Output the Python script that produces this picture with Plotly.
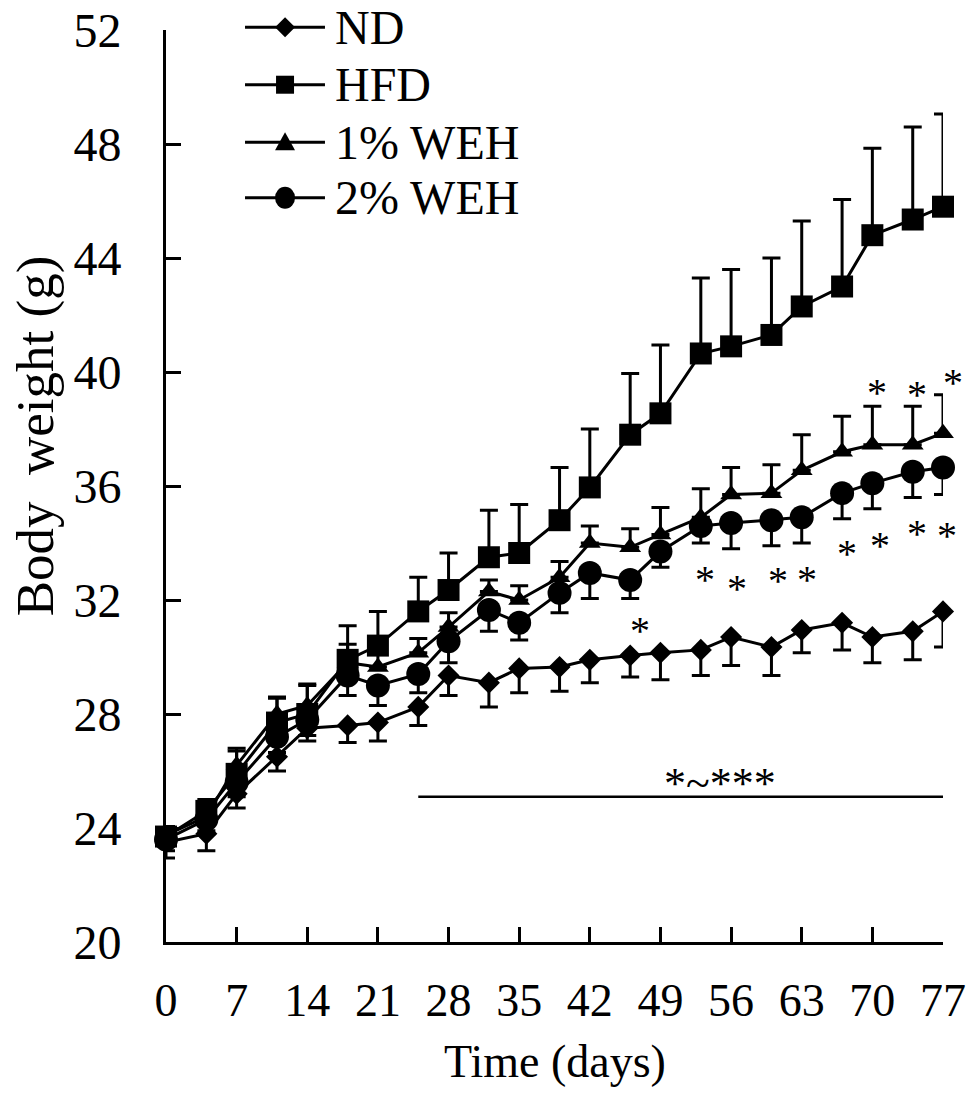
import plotly.graph_objects as go

# Body weight (g) over the feeding period, mean with one-sided SD bars
days = [0, 4, 7, 11, 14, 18, 21, 25, 28, 32, 35, 39, 42, 46, 49, 53, 56, 60, 63, 67, 70, 74, 77]

nd_mean = [23.5, 23.8, 25.2, 26.5, 27.5, 27.6, 27.7, 28.25, 29.35, 29.1, 29.6, 29.65, 29.9,
           30.05, 30.15, 30.25, 30.7, 30.35, 30.95, 31.2, 30.7, 30.9, 31.6]
nd_sd = [0.55, 0.6, 0.5, 0.5, 0.45, 0.6, 0.65, 0.65, 0.7, 0.85, 0.85, 0.85, 0.8,
         0.75, 0.95, 0.9, 1.0, 1.0, 0.8, 0.95, 0.9, 1.0, 1.25]

hfd_mean = [23.7, 24.6, 25.9, 27.7, 28.0, 29.9, 30.4, 31.6, 32.35, 33.5, 33.65, 34.8, 35.95,
            37.8, 38.55, 40.65, 40.9, 41.3, 42.3, 43.0, 44.8, 45.35, 45.8]
hfd_sd = [0.3, 0.4, 0.8, 0.85, 1.05, 1.2, 1.2, 1.2, 1.3, 1.65, 1.7, 1.85, 2.05,
          2.15, 2.4, 2.65, 2.7, 2.7, 3.0, 3.05, 3.05, 3.25, 3.25]

weh1_mean = [23.75, 24.4, 26.2, 28.0, 28.3, 29.8, 29.65, 30.15, 31.05, 32.3, 32.0, 32.8, 34.0,
             33.85, 34.3, 34.9, 35.7, 35.75, 36.55, 37.2, 37.45, 37.45, 37.85]
weh1_sd = [0.3, 0.4, 0.6, 0.6, 0.7, 0.65, 0.55, 0.5, 0.5, 0.4, 0.5, 0.55, 0.6,
           0.65, 0.95, 1.0, 0.95, 1.0, 1.25, 1.25, 1.35, 1.35, 1.35]

weh2_mean = [23.6, 24.3, 25.6, 27.2, 27.8, 29.35, 29.0, 29.4, 30.55, 31.65, 31.2, 32.25, 32.95,
             32.7, 33.7, 34.6, 34.7, 34.8, 34.9, 35.75, 36.1, 36.5, 36.65]
weh2_sd = [0.4, 0.4, 0.5, 0.55, 0.55, 0.7, 0.7, 0.65, 0.75, 0.75, 0.6, 0.7, 0.9,
           0.65, 0.55, 0.6, 0.9, 0.9, 0.9, 0.9, 0.9, 0.9, 0.95]

series_names = ["ND", "HFD", "1% WEH", "2% WEH"]

# significance marks (day, body weight)
star_up_x = [70.5, 74.4, 78.0]
star_up_y = [39.55, 39.5, 39.9]
star_low_x = [53.4, 56.6, 60.6, 63.5, 67.5, 70.8, 74.4, 77.4]
star_low_y = [33.0, 32.7, 32.95, 33.0, 33.9, 34.2, 34.6, 34.55]
star_mid_x = [47.0]
star_mid_y = [31.2]
bracket_start, bracket_end, bracket_y = 25, 77, 25.1
bracket_label = "*~***"
bracket_label_x, bracket_label_y = 54.9, 25.85

x_ticks = list(range(0, 78, 7))
y_ticks = list(range(20, 53, 4))
X_MAX = 77

FONT = "Liberation Serif, Times New Roman, serif"
BLACK = "#000000"

fig = go.Figure()


def add_series(name, mean, sd, symbol, size, upward):
    err = dict(type="data", symmetric=False, color=BLACK, thickness=3, width=9)
    if upward:
        err.update(array=sd, arrayminus=[0] * len(sd))
    else:
        err.update(array=[0] * len(sd), arrayminus=sd)
    fig.add_trace(go.Scatter(
        x=days, y=mean, name=name, mode="lines+markers",
        line=dict(color=BLACK, width=3),
        marker=dict(symbol=symbol, size=size, color=BLACK, line=dict(width=0)),
        error_y=err, cliponaxis=False, showlegend=False,
    ))


add_series(series_names[0], nd_mean, nd_sd, "diamond", 17, False)
add_series(series_names[1], hfd_mean, hfd_sd, "square", 22, True)
add_series(series_names[2], weh1_mean, weh1_sd, "triangle-up", 19, True)
add_series(series_names[3], weh2_mean, weh2_sd, "circle", 24, False)

annotations = []
# stars use a paper x so the ones just past day 77 still show
for xs, ys in [(star_up_x, star_up_y), (star_low_x, star_low_y), (star_mid_x, star_mid_y)]:
    for sx, sy in zip(xs, ys):
        annotations.append(dict(x=sx / X_MAX, y=sy, xref="paper", yref="y", text="*",
                                showarrow=False, yshift=-8, xanchor="center",
                                font=dict(family=FONT, size=40, color=BLACK)))
annotations.append(dict(x=bracket_label_x, y=bracket_label_y, xref="x", yref="y",
                        text=bracket_label, showarrow=False, yshift=-8, xanchor="center",
                        font=dict(family=FONT, size=44, color=BLACK)))

shapes = [dict(type="line", xref="x", yref="y", x0=bracket_start, x1=bracket_end,
               y0=bracket_y, y1=bracket_y, line=dict(color=BLACK, width=2.5))]

# legend block at the top left of the plot area
legend_rows_y = [1.003, 0.94, 0.877, 0.816]
leg_x0, leg_x1, leg_xm, leg_xt = 0.1017, 0.2046, 0.1532, 0.2149
for i, (name, ly) in enumerate(zip(series_names, legend_rows_y)):
    shapes.append(dict(type="line", xref="paper", yref="paper", x0=leg_x0, x1=leg_x1,
                       y0=ly, y1=ly, line=dict(color=BLACK, width=3)))
    common = dict(xref="paper", yref="paper", xsizemode="pixel", ysizemode="pixel",
                  xanchor=leg_xm, yanchor=ly, fillcolor=BLACK, line=dict(width=0))
    if i == 0:
        shapes.append(dict(type="path", path="M -10 0 L 0 10 L 10 0 L 0 -10 Z", **common))
    elif i == 1:
        shapes.append(dict(type="rect", x0=-9, x1=9, y0=-9, y1=9, **common))
    elif i == 2:
        shapes.append(dict(type="path", path="M -10 -8 L 10 -8 L 0 10 Z", **common))
    else:
        shapes.append(dict(type="circle", x0=-10, x1=10, y0=-11, y1=11, **common))
    annotations.append(dict(x=leg_xt, y=ly, xref="paper", yref="paper", text=name,
                            showarrow=False, xanchor="left", yanchor="middle",
                            font=dict(family=FONT, size=48, color=BLACK)))

# axis titles
annotations.append(dict(x=-0.168, y=0.555, xref="paper", yref="paper",
                        text="Body\u00a0\u00a0weight\u00a0(g)",
                        showarrow=False, textangle=-90, xanchor="center", yanchor="middle",
                        font=dict(family=FONT, size=53, color=BLACK)))
annotations.append(dict(x=0.5, y=-0.131, xref="paper", yref="paper", text="Time (days)",
                        showarrow=False, xanchor="center", yanchor="middle",
                        font=dict(family=FONT, size=46, color=BLACK)))

fig.update_layout(
    width=973, height=1102,
    margin=dict(l=166, r=30, t=30, b=160, pad=0, autoexpand=False),
    paper_bgcolor="white", plot_bgcolor="white",
    font=dict(family=FONT, color=BLACK),
    annotations=annotations, shapes=shapes,
    showlegend=False,
)
fig.update_xaxes(
    range=[0, X_MAX], tickvals=x_ticks, ticktext=[str(t) for t in x_ticks],
    showline=True, linecolor=BLACK, linewidth=3, ticks="inside", ticklen=15,
    tickwidth=3, tickcolor=BLACK, showgrid=False, zeroline=False, automargin=False,
    tickfont=dict(family=FONT, size=46, color=BLACK), ticklabelstandoff=16,
)
fig.update_yaxes(
    range=[20, 52], tickvals=y_ticks, ticktext=[str(t) for t in y_ticks],
    showline=True, linecolor=BLACK, linewidth=3, ticks="inside", ticklen=15,
    tickwidth=3, tickcolor=BLACK, showgrid=False, zeroline=False, automargin=False,
    tickfont=dict(family=FONT, size=48, color=BLACK), ticklabelstandoff=32,
)

fig.write_html("out.html")
